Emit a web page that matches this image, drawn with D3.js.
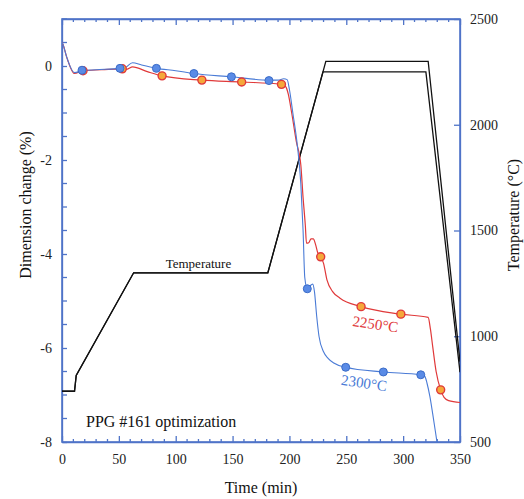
<!DOCTYPE html>
<html>
<head>
<meta charset="utf-8">
<script src="https://cdn.jsdelivr.net/npm/d3@7"></script>
<style>
  body { margin: 0; background: #fff; }
  svg text { font-family: "Liberation Serif", "Times New Roman", serif; }
</style>
</head>
<body>
<svg id="mainsvg" width="524" height="499"></svg>
<script>
// data: [time (min), dimension change (%)]
const run2300 = [[0,0.5],[1,0.45],[4,0.2],[11,-0.14],[17.6,-0.1],[30,-0.08],[51,-0.05],[55,-0.04],[62,0.07],[70,0.02],[83,-0.05],[100,-0.1],[116,-0.16],[149,-0.23],[182,-0.3],[190,-0.3],[195,-0.27],[198,-0.29],[200,-0.5],[203,-1.0],[207,-1.7],[210,-2.5],[212,-3.5],[213.5,-4.5],[215.7,-4.74],[218,-4.68],[220.5,-4.64],[222,-4.8],[224,-5.33],[226,-5.75],[230,-6.08],[234,-6.22],[239,-6.32],[249.5,-6.41],[282.6,-6.51],[315.5,-6.57],[319,-6.6],[321,-6.75],[323.5,-7.03],[326,-7.4],[329.5,-7.96],[331,-8.2]];
const run2250 = [[0,0.5],[1,0.45],[4,0.2],[11,-0.16],[18,-0.1],[35,-0.08],[53,-0.06],[57,-0.07],[62,-0.02],[75,-0.12],[88,-0.21],[123,-0.3],[158,-0.34],[193,-0.39],[195,-0.41],[197,-0.45],[199,-0.6],[202,-1.0],[206,-1.6],[210,-2.1],[212,-2.8],[214,-3.4],[215,-3.77],[217,-3.76],[219,-3.68],[221,-3.68],[223,-3.8],[225,-3.98],[227.5,-4.06],[230,-4.2],[233,-4.55],[238,-4.8],[244.5,-4.94],[263,-5.12],[298,-5.28],[322,-5.35],[324,-5.6],[326,-5.97],[329,-6.5],[333,-6.89],[336,-7.05],[340,-7.12],[350,-7.16]];
const marks2300 = [[17.6,-0.09],[51,-0.05],[83,-0.05],[116,-0.16],[149,-0.23],[182,-0.31],[215.7,-4.74],[249.5,-6.41],[282.6,-6.51],[315.5,-6.57]];
const marks2250 = [[18.5,-0.1],[53,-0.06],[88,-0.21],[123,-0.3],[158,-0.34],[193,-0.39],[227.5,-4.06],[263,-5.12],[298,-5.28],[333,-6.89]];
// temperature programs: [time (min), °C]
const temp2300 = [[0,740],[11,740],[12.5,815],[63,1300],[181,1300],[229.5,2250],[232,2300],[322,2300],[350,880]];
const temp2250 = [[0,740],[11,740],[12.5,815],[63,1300],[181,1300],[229.5,2250],[320,2250],[350,830]];
const xTicks = [0,50,100,150,200,250,300,350];
const yTicks = [-8,-6,-4,-2,0];
const tTicks = [500,1000,1500,2000,2500];

const svg = d3.select('#mainsvg');
const margin = {top: 19, right: 64, bottom: 57, left: 62};
const width = +svg.attr('width');
const height = +svg.attr('height');
const innerWidth = width - margin.left - margin.right;
const innerHeight = height - margin.top - margin.bottom;
const axisColor = '#4f74c8';
const blue = '#4a7bd6', red = '#e0393a';
const serif = '"Liberation Serif", "Times New Roman", serif';

const g = svg.append('g').attr('transform', `translate(${margin.left}, ${margin.top})`);

const xScale = d3.scaleLinear().domain([0, 350]).range([0, innerWidth]);
const yScale = d3.scaleLinear().domain([-8, 1]).range([innerHeight, 0]);
const tScale = d3.scaleLinear().domain([500, 2500]).range([innerHeight, 0]);

g.append('clipPath').attr('id', 'clip')
  .append('rect').attr('width', innerWidth).attr('height', innerHeight);

// minor ticks (no labels)
const minorX = d3.range(0, 351, 10).filter(d => !xTicks.includes(d));
const minorY = d3.range(-8, 1.01, 0.5).filter(d => !yTicks.includes(d));
const tickG = g.append('g');
tickG.selectAll('.mxb').data(minorX).join('line')
  .attr('x1', d => xScale(d)).attr('x2', d => xScale(d))
  .attr('y1', innerHeight).attr('y2', innerHeight - 3);
tickG.selectAll('.mxt').data(minorX).join('line')
  .attr('x1', d => xScale(d)).attr('x2', d => xScale(d))
  .attr('y1', 0).attr('y2', 3);
tickG.selectAll('.my').data(minorY).join('line')
  .attr('x1', 0).attr('x2', 5)
  .attr('y1', d => yScale(d)).attr('y2', d => yScale(d));
tickG.selectAll('line').attr('stroke', axisColor).attr('stroke-width', 1.3);

// major axes
g.append('g').attr('class', 'ax').attr('transform', `translate(0, ${innerHeight})`)
  .call(d3.axisBottom(xScale).tickValues(xTicks).tickSize(-6).tickPadding(12).tickSizeOuter(0).tickFormat(d => String(d)));
g.append('g').attr('class', 'ax0')
  .call(d3.axisTop(xScale).tickValues(xTicks).tickSize(-6).tickSizeOuter(0));
g.append('g').attr('class', 'ax')
  .call(d3.axisLeft(yScale).tickValues(yTicks).tickSize(-5).tickPadding(10).tickSizeOuter(0)
    .tickFormat(d => String(d)));
g.append('g').attr('class', 'ax').attr('transform', `translate(${innerWidth}, 0)`)
  .call(d3.axisRight(tScale).tickValues(tTicks).tickSize(-6).tickPadding(10).tickSizeOuter(0).tickFormat(d => String(d)));

g.selectAll('.ax0 text').remove();
g.selectAll('.domain, .tick line').attr('stroke', axisColor).attr('stroke-width', 1.3);
g.selectAll('.ax, .ax0').attr('font-family', null);
g.selectAll('.ax text').style('font-family', serif).attr('font-size', 14).attr('fill', '#222');
g.append('rect').attr('width', innerWidth).attr('height', innerHeight)
  .attr('fill', 'none').attr('stroke', axisColor).attr('stroke-width', 1.6);

// temperature lines
const tLine = d3.line().x(d => xScale(d[0])).y(d => tScale(d[1]));
[temp2300, temp2250].forEach(d => {
  g.append('path').attr('d', tLine(d)).attr('fill', 'none')
    .attr('stroke', '#111').attr('stroke-width', 1.3).attr('clip-path', 'url(#clip)');
});

// dimension curves
const dLine = d3.line().x(d => xScale(d[0])).y(d => yScale(d[1])).curve(d3.curveMonotoneX);
g.append('path').attr('d', dLine(run2250)).attr('fill', 'none')
  .attr('stroke', red).attr('stroke-width', 1.2).attr('clip-path', 'url(#clip)');
g.append('path').attr('d', dLine(run2300)).attr('fill', 'none')
  .attr('stroke', blue).attr('stroke-width', 1.1).attr('clip-path', 'url(#clip)');

g.selectAll('.m2250').data(marks2250).join('circle')
  .attr('cx', d => xScale(d[0])).attr('cy', d => yScale(d[1])).attr('r', 4)
  .attr('fill', '#f5a83a').attr('stroke', red).attr('stroke-width', 1.4);
g.selectAll('.m2300').data(marks2300).join('circle')
  .attr('cx', d => xScale(d[0])).attr('cy', d => yScale(d[1])).attr('r', 4)
  .attr('fill', '#5a8be6').attr('stroke', '#3b6cc8').attr('stroke-width', 1);

// labels inside plot
g.append('text').attr('x', xScale(120)).attr('y', tScale(1300) - 5)
  .attr('text-anchor', 'middle').attr('font-size', 13).attr('fill', '#111').style('font-family', serif).text('Temperature');
g.append('text').attr('transform', `translate(${xScale(275)}, ${yScale(-5.6)}) rotate(8)`)
  .attr('text-anchor', 'middle').attr('font-size', 15).attr('fill', red).style('font-family', serif).text('2250°C');
g.append('text').attr('transform', `translate(${xScale(265)}, ${yScale(-6.85)}) rotate(8)`)
  .attr('text-anchor', 'middle').attr('font-size', 15).attr('fill', blue).style('font-family', serif).text('2300°C');
g.append('text').attr('x', 24).attr('y', innerHeight - 15)
  .attr('font-size', 16).attr('fill', '#111').style('font-family', serif).text('PPG #161 optimization');

// axis titles
svg.append('text').attr('x', margin.left + innerWidth / 2).attr('y', 493)
  .attr('text-anchor', 'middle').attr('font-size', 16).attr('fill', '#111').style('font-family', serif).text('Time (min)');
svg.append('text').attr('transform', `translate(31, 205) rotate(-90)`)
  .attr('text-anchor', 'middle').attr('font-size', 16).attr('fill', '#111').style('font-family', serif).text('Dimension change (%)');
svg.append('text').attr('transform', `translate(519, 215) rotate(-90)`)
  .attr('text-anchor', 'middle').attr('font-size', 16).attr('fill', '#111').style('font-family', serif).text('Temperature (°C)');
</script>
</body>
</html>
